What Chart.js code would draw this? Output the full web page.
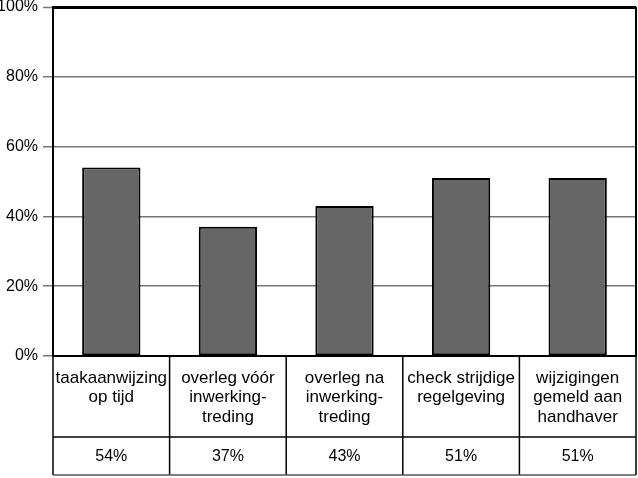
<!DOCTYPE html>
<html>
<head>
<meta charset="utf-8">
<script src="https://cdn.jsdelivr.net/npm/chart.js@4.4.0/dist/chart.umd.min.js"></script>
<style>
    html, body { margin: 0; padding: 0; background: #fff; }
    #wrap { width: 638px; height: 478px; position: relative; }
</style>
</head>
<body>
<div id="wrap"><canvas id="chart" width="638" height="478"></canvas></div>
<script>
const categories = [
    ['taakaanwijzing', 'op tijd'],
    ['overleg vóór', 'inwerking-', 'treding'],
    ['overleg na', 'inwerking-', 'treding'],
    ['check strijdige', 'regelgeving'],
    ['wijzigingen', 'gemeld aan', 'handhaver']
]
const values = [54, 37, 43, 51, 51]
const valueLabels = ['54%', '37%', '43%', '51%', '51%']
const yTicks = [0, 20, 40, 60, 80, 100]

const FONT = '"Liberation Sans", Arial, sans-serif'

// draws the data table under the plot, columns taken from the x scale
const tablePlugin = {
    id: 'table',
    afterDraw(chart) {
        const ctx = chart.ctx
        const x = chart.scales.x
        const area = chart.chartArea
        const top = area.bottom
        const mid = 437
        const bottom = 475
        const half = (x.getPixelForValue(1) - x.getPixelForValue(0)) / 2
        const edges = categories.map((c, i) => x.getPixelForValue(i) - half)
        edges.push(x.getPixelForValue(categories.length - 1) + half)

        ctx.save()
        ctx.strokeStyle = '#000'
        ctx.lineWidth = 1.5
        edges.forEach(e => {
            ctx.beginPath()
            ctx.moveTo(e, top)
            ctx.lineTo(e, bottom)
            ctx.stroke()
        })
        ctx.beginPath()
        ctx.moveTo(edges[0], mid)
        ctx.lineTo(edges[edges.length - 1], mid)
        ctx.stroke()
        ctx.strokeStyle = '#555'
        ctx.beginPath()
        ctx.moveTo(edges[0], bottom)
        ctx.lineTo(edges[edges.length - 1], bottom)
        ctx.stroke()

        ctx.fillStyle = '#000'
        ctx.textAlign = 'center'
        ctx.textBaseline = 'middle'
        categories.forEach((lines, i) => {
            const cx = x.getPixelForValue(i)
            ctx.font = `17px ${FONT}`
            lines.forEach((line, j) => ctx.fillText(line, cx, 378 + j * 19.5))
            ctx.font = `16px ${FONT}`
            ctx.fillText(valueLabels[i], cx, 457)
        })
        ctx.restore()
    }
}

new Chart(document.getElementById('chart'), {
    type: 'bar',
    data: {
        labels: categories.map(c => c.join(' ')),
        datasets: [{
            data: values,
            backgroundColor: '#666666',
            borderColor: '#000',
            borderWidth: 2,
            borderSkipped: false,
            categoryPercentage: 1,
            barPercentage: 0.5
        }]
    },
    options: {
        responsive: false,
        animation: false,
        layout: { padding: { top: 7, right: 2, bottom: 0, left: 0 } },
        plugins: { legend: { display: false }, tooltip: { enabled: false } },
        scales: {
            x: {
                ticks: { display: false },
                grid: { display: false, drawTicks: false },
                border: { color: '#000', width: 2 },
                afterFit: s => { s.height = 122 }
            },
            y: {
                min: 0,
                max: 100,
                afterBuildTicks: s => { s.ticks = yTicks.map(v => ({ value: v })) },
                ticks: {
                    color: '#000',
                    font: { family: FONT, size: 16 },
                    padding: 5,
                    callback: v => v + '%'
                },
                grid: {
                    color: ctx => ctx.tick && ctx.tick.value === 100 ? '#000' : '#777',
                    lineWidth: ctx => ctx.tick && ctx.tick.value === 100 ? 3 : 1.5,
                    tickColor: '#777',
                    tickLength: 10,
                    tickWidth: 1.5
                },
                border: { color: '#000', width: 2 },
                afterFit: s => {
                    s.width = 53
                    s.paddingTop = 0
                    s.paddingBottom = 0
                }
            }
        }
    },
    plugins: [tablePlugin, {
        id: 'rightBorder',
        afterDraw(chart) {
            const { ctx, chartArea: a } = chart
            ctx.save()
            ctx.strokeStyle = '#000'
            ctx.lineWidth = 2
            ctx.beginPath()
            ctx.moveTo(a.right, a.top)
            ctx.lineTo(a.right, a.bottom)
            ctx.stroke()
            ctx.restore()
        }
    }]
})
</script>
</body>
</html>
